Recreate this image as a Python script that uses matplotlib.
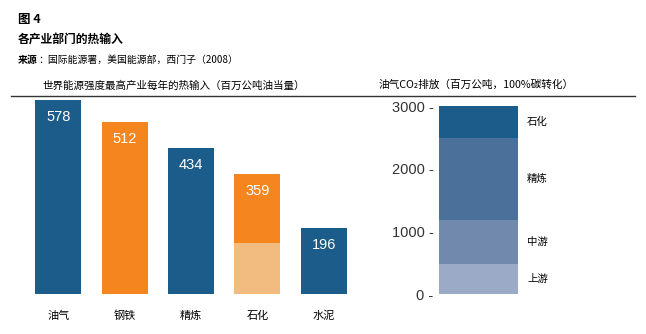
import matplotlib
matplotlib.use("Agg")
import matplotlib.pyplot as plt
import numpy as np

plt.rcParams['font.family'] = ['Noto Sans CJK SC', 'DejaVu Sans']

# 左图：热输入（百万公吨油当量）
sectors = ["油气", "钢铁", "精炼", "石化", "水泥"]
heat_input = [578, 512, 434, 359, 196]
sector_colors = ["#1b5c8a", "#f5861f", "#1b5c8a", "#f5861f", "#1b5c8a"]
petchem_light = 152  # 石化 bar lower light part

# 右图：油气CO2排放（百万公吨）
co2_stages = ["上游", "中游", "精炼", "石化"]
co2_values = [480, 700, 1310, 510]
co2_colors = ["#9aaac7", "#7189ad", "#4b7099", "#1b5c8a"]
co2_ticks = [0, 1000, 2000, 3000]

W, H = 646, 334
fig = plt.figure(figsize=(W / 100, H / 100), dpi=100)

def fx(px):
    return px / W

def fy(py):
    return 1 - py / H

# 标题区
fig.text(fx(18), fy(20), "图 4", fontsize=9, fontweight="bold", va="center", ha="left")
fig.text(fx(18), fy(40), "各产业部门的热输入", fontsize=8.5, fontweight="bold", va="center", ha="left")
src = fig.text(fx(18), fy(60), "来源", fontsize=7.1, fontweight="bold", va="center", ha="left")
fig.canvas.draw()
bb = src.get_window_extent()
fig.text(fx(bb.x1 + 0.5), fy(60), "：国际能源署，美国能源部，西门子（2008）", fontsize=7.1, va="center", ha="left")

fig.text(fx(174), fy(86), "世界能源强度最高产业每年的热输入（百万公吨油当量）", fontsize=7.6, va="center", ha="center")
fig.text(fx(476), fy(85), "油气CO₂排放（百万公吨，100%碳转化）", fontsize=7.7, va="center", ha="center")

fig.add_artist(plt.Line2D([fx(11), fx(635)], [fy(96), fy(96)], color="#333333", linewidth=1))

# 左图
ax = fig.add_axes([fx(25), fy(294), fx(357 - 25), (294 - 100) / H])
x = np.arange(len(sectors))
ax.bar(x, heat_input, width=0.69, color=sector_colors)
ax.bar(x[3], petchem_light, width=0.69, color="#f2bb80")
for xi, v in zip(x, heat_input):
    ax.annotate(str(v), (xi, v), xytext=(0, -17), textcoords="offset pixels",
                ha="center", va="center", color="white", fontsize=10.5,
                family=["Liberation Sans", "DejaVu Sans"])
ax.set_xlim(-0.5, len(sectors) - 0.5)
ax.set_ylim(0, 578)
ax.set_xticks(x)
ax.set_xticklabels(sectors, fontsize=8)
ax.tick_params(axis="x", length=0, pad=12)
ax.set_yticks([])
for s in ax.spines.values():
    s.set_visible(False)

# 右图
ax2 = fig.add_axes([fx(439), fy(294), fx(518 - 439), (294 - 106) / H])
bottom = 0
for name, v, c in zip(co2_stages, co2_values, co2_colors):
    ax2.bar(0, v, bottom=bottom, width=1.0, color=c)
    ax2.text(0.5 + 9 / 79, bottom + v / 2, name, fontsize=7.5, va="center", ha="left")
    bottom += v
ax2.set_xlim(-0.5, 0.5)
ax2.set_ylim(0, 3000)
ax2.set_xticks([])
ax2.set_yticks(co2_ticks)
ax2.set_yticklabels([f"{v} -" for v in co2_ticks], fontsize=10.5,
                    family=["Liberation Sans", "DejaVu Sans"], color="#333333")
ax2.tick_params(axis="y", length=0, pad=4)
for s in ax2.spines.values():
    s.set_visible(False)

fig.savefig("out.png", dpi=100)
